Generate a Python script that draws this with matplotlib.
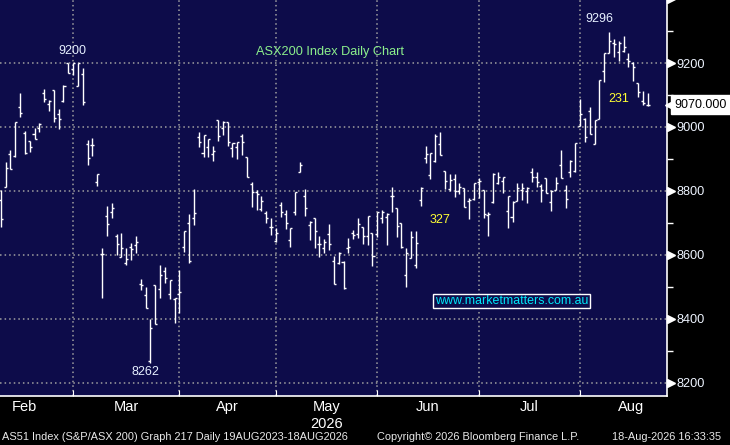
import numpy as np
import matplotlib
matplotlib.use("Agg")
import matplotlib.pyplot as plt
from matplotlib.transforms import ScaledTranslation

plt.rcParams['font.family'] = ['Liberation Sans', 'DejaVu Sans']

# ASX200 daily OHLC, early Feb 2026 to 18 Aug 2026 (one entry per trading day)
opens = [8772, 8813, 8916, 8909, 9063, 8981, 8956, 8978, 8997, 9106,
         9072, 9116, 9041, 9081, 9200, 9181, 9128, 9166, 8947, 8944,
         8828, 8603, 8722, 8734, 8659, 8594, 8575, 8625, 8631, 8509,
         8475, 8269, 8506, 8494, 8550, 8478, 8463, 8478, 8625, 8700,
         8716, 8969, 8919, 8938, 8916, 9022, 8997, 9016, 8934, 8938,
         8972, 8906, 8822, 8797, 8744, 8731, 8688, 8644, 8756, 8728,
         8647, 8734, 8859, 8784, 8694, 8716, 8634, 8622, 8666, 8581,
         8575, 8578, 8622, 8669, 8666, 8688, 8659, 8669, 8666, 8716,
         8719, 8784, 8747, 8700, 8538, 8591, 8569, 8772, 8903, 8850,
         8894, 8947, 8863, 8806, 8838, 8800, 8809, 8769, 8775, 8828,
         8803, 8725, 8766, 8825, 8831, 8738, 8719, 8769, 8803, 8800,
         8859, 8844, 8816, 8841, 8766, 8803, 8881, 8803, 8859, 8863,
         9003, 9025, 9050, 8947, 9025, 9175, 9231, 9263, 9234, 9238,
         9213, 9200, 9138, 9081, 9069]
highs = [8803, 8891, 8928, 9016, 9106, 8988, 8956, 8997, 9013, 9119,
         9084, 9116, 9056, 9131, 9200, 9200, 9200, 9184, 8959, 8966,
         8853, 8622, 8753, 8763, 8666, 8669, 8622, 8638, 8659, 8525,
         8500, 8400, 8506, 8569, 8563, 8522, 8466, 8553, 8675, 8728,
         8806, 8984, 8975, 8963, 8941, 9022, 9019, 9016, 8950, 8953,
         8978, 8906, 8828, 8803, 8784, 8738, 8716, 8684, 8766, 8741,
         8684, 8797, 8891, 8806, 8706, 8716, 8659, 8650, 8697, 8597,
         8609, 8581, 8653, 8678, 8716, 8688, 8722, 8669, 8734, 8741,
         8731, 8813, 8747, 8700, 8622, 8675, 8675, 8813, 8941, 8919,
         8978, 8984, 8863, 8853, 8853, 8825, 8809, 8778, 8825, 8841,
         8803, 8734, 8856, 8859, 8844, 8784, 8769, 8825, 8825, 8813,
         8872, 8859, 8822, 8841, 8803, 8844, 8928, 8819, 8897, 8950,
         9088, 9028, 9063, 9022, 9147, 9231, 9296, 9275, 9269, 9284,
         9231, 9203, 9138, 9113, 9106]
lows = [8688, 8813, 8869, 8906, 9031, 8916, 8922, 8963, 8984, 9078,
        9050, 9016, 8994, 9078, 9169, 9163, 9128, 9069, 8881, 8909,
        8816, 8466, 8659, 8716, 8600, 8594, 8569, 8584, 8606, 8491,
        8434, 8262, 8384, 8466, 8513, 8463, 8388, 8419, 8609, 8575,
        8694, 8938, 8906, 8906, 8894, 8956, 8975, 8941, 8906, 8900,
        8913, 8844, 8750, 8741, 8738, 8700, 8663, 8641, 8719, 8681,
        8625, 8725, 8859, 8722, 8647, 8622, 8594, 8606, 8616, 8509,
        8572, 8494, 8606, 8650, 8653, 8634, 8631, 8566, 8656, 8700,
        8631, 8734, 8656, 8622, 8500, 8591, 8559, 8753, 8888, 8838,
        8891, 8913, 8806, 8800, 8781, 8791, 8750, 8713, 8772, 8778,
        8716, 8659, 8763, 8822, 8794, 8684, 8703, 8769, 8772, 8763,
        8828, 8813, 8766, 8794, 8738, 8803, 8841, 8747, 8844, 8859,
        9003, 8953, 8978, 8947, 9025, 9141, 9231, 9219, 9206, 9234,
        9188, 9144, 9094, 9068, 9065]
closes = [8713, 8872, 8869, 9016, 9044, 8919, 8938, 8963, 9009, 9088,
          9081, 9028, 9025, 9128, 9169, 9200, 9200, 9078, 8903, 8944,
          8853, 8603, 8697, 8747, 8634, 8622, 8588, 8619, 8641, 8506,
          8434, 8372, 8384, 8538, 8528, 8522, 8466, 8484, 8675, 8581,
          8731, 8953, 8975, 8963, 8925, 8972, 9016, 8953, 8950, 8953,
          8953, 8844, 8797, 8791, 8769, 8716, 8688, 8669, 8734, 8700,
          8684, 8797, 8881, 8747, 8703, 8675, 8634, 8641, 8634, 8509,
          8606, 8497, 8625, 8663, 8697, 8659, 8722, 8597, 8734, 8734,
          8728, 8784, 8691, 8625, 8606, 8656, 8638, 8809, 8916, 8919,
          8972, 8913, 8831, 8834, 8800, 8813, 8750, 8772, 8825, 8831,
          8728, 8728, 8853, 8844, 8844, 8784, 8766, 8809, 8809, 8809,
          8844, 8828, 8803, 8794, 8800, 8825, 8841, 8775, 8894, 8950,
          9041, 8969, 8978, 9022, 9147, 9231, 9269, 9259, 9263, 9250,
          9206, 9188, 9109, 9075, 9070]

# trading-day index where each month begins (Feb starts before the window)
month_bounds = [-5, 15, 37, 57, 78, 99, 120, 141]
month_names = ["Feb", "Mar", "Apr", "May\n2026", "Jun", "Jul", "Aug"]

navy = "#0d0c4a"
grid_col = "#a0a0a0"

fig = plt.figure(figsize=(7.3, 4.45), dpi=100, facecolor="black")
ax = fig.add_axes([0, 49 / 445, 667 / 730, 396 / 445])
ax.set_facecolor(navy)

x = np.arange(len(closes))
tick = 0.42
ax.vlines(x, lows, highs, color="white", lw=1.0, zorder=3)
ax.hlines(opens, x - tick, x, color="white", lw=1.0, zorder=3)
ax.hlines(closes, x, x + tick, color="white", lw=1.0, zorder=3)

ax.set_xlim(-0.15, 138.0)
ax.set_ylim(8159, 9397)

# grid
for m in month_bounds[1:-1]:
    ax.axvline(m, color=grid_col, lw=1.1, ls=(0, (1, 2)), zorder=1)
for v in range(8200, 9400, 200):
    ax.axhline(v, color=grid_col, lw=1.1, ls=(0, (1, 2)), zorder=1)

for s in ["top", "left"]:
    ax.spines[s].set_visible(False)
ax.spines["right"].set_color("white")
ax.spines["bottom"].set_color("white")
ax.spines["right"].set_linewidth(1.2)
ax.spines["bottom"].set_linewidth(1.2)

# x axis: ticks at month starts, labels centred in months
ax.set_xticks(month_bounds[1:-1])
ax.set_xticklabels([])
ax.tick_params(axis="x", which="major", direction="in", length=4, color="white")
mids = [(a + b) / 2 for a, b in zip(month_bounds[:-1], month_bounds[1:])]
ax.set_xticks(mids, month_names, minor=True)
ax.tick_params(axis="x", which="minor", length=0, pad=3, labelcolor="white",
               labelsize=10.5)
for lab in ax.get_xticklabels(minor=True):
    lab.set_linespacing(1.25)

# y axis on the right
ax.yaxis.tick_right()
ax.set_yticks(range(8200, 9300, 200))
ax.set_yticks(range(8300, 9400, 200), minor=True)
ax.tick_params(axis="y", which="major", length=0, pad=7, labelcolor="#eef4ff",
               labelsize=9.2)
ax.tick_params(axis="y", which="minor", direction="out", length=4, width=1,
               color="white")
tri = ax.get_yaxis_transform() + ScaledTranslation(2.6 / 72, 0, fig.dpi_scale_trans)
ax.plot([1] * 7, list(range(8200, 9600, 200)), transform=tri, ls="none",
        marker=">", ms=5.5, color="white", clip_on=False, zorder=5)

# last price tag
last = closes[-1]
ptag = ax.get_yaxis_transform() + ScaledTranslation(3.0 / 72, 0, fig.dpi_scale_trans)
ax.plot([1], [last], transform=ptag, marker="<", ms=9, color="white",
        clip_on=False, zorder=5)
ax.annotate(f"{last:.3f}", xy=(1, last), xycoords=ax.get_yaxis_transform(),
            xytext=(5.5, 0), textcoords="offset points", ha="left", va="center",
            fontsize=9, color="black", annotation_clip=False, zorder=7,
            bbox=dict(boxstyle="square,pad=0.28", fc="white", ec="white"))

# annotations
lab_col = "#e6f0ff"
ax.text(14.8, 9237, "9200", color=lab_col, fontsize=9, ha="center", va="center")
ax.text(124.0, 9337, "9296", color=lab_col, fontsize=9, ha="center", va="center")
ax.text(29.9, 8234, "8262", color=lab_col, fontsize=9, ha="center", va="center")
ax.text(90.9, 8709, "327", color="#ffff33", fontsize=9, ha="center", va="center")
ax.text(128.1, 9086, "231", color="#ffff33", fontsize=9, ha="center", va="center")
ax.text(68.3, 9234, "ASX200 Index Daily Chart", color="#8cf08c", fontsize=9.2,
        ha="center", va="center")
ax.text(105.8, 8456, "www.marketmatters.com.au", color="#00e8f8", fontsize=8.9,
        ha="center", va="center", zorder=6,
        bbox=dict(boxstyle="square,pad=0.12", fc=navy, ec="white", lw=1))

# footer
foot = dict(color="#e8e8e8", fontsize=7.9, va="center")
fig.text(2 / 730, 8 / 445, "AS51 Index (S&P/ASX 200) Graph 217 Daily 19AUG2023-18AUG2026", **foot)
fig.text(377 / 730, 8 / 445, "Copyright\u00a9 2026 Bloomberg Finance L.P.", **foot)
fig.text(612 / 730, 8 / 445, "18-Aug-2026 16:33:35", **foot)

plt.savefig("out.png", dpi=100, facecolor="black")
